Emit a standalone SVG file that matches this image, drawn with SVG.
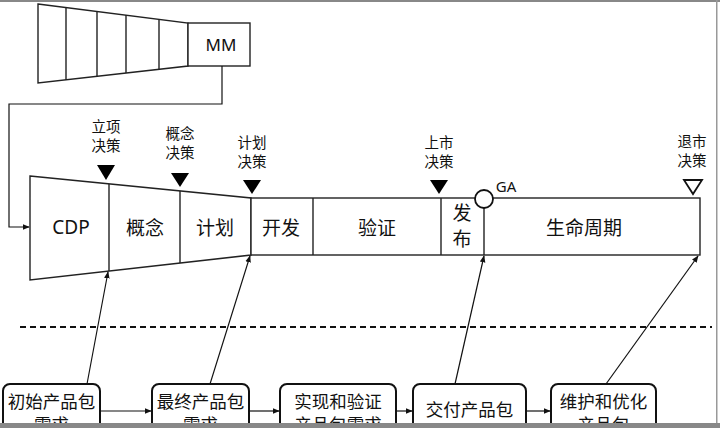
<svg xmlns="http://www.w3.org/2000/svg" width="720" height="428" viewBox="0 0 720 428">
<defs>
<marker id="ah" viewBox="0 0 10 10" refX="9" refY="5" markerWidth="7" markerHeight="7" orient="auto" markerUnits="userSpaceOnUse">
<path d="M0,1 L10,5 L0,9 z" fill="#111"/>
</marker>
<style>
.ln{fill:none;stroke:#222;stroke-width:1.4}
.sh{fill:#fff;stroke:#222;stroke-width:1.4}
.box{fill:#fff;stroke:#111;stroke-width:2}
.t{font-family:"Noto Sans","Noto Sans CJK SC",sans-serif;fill:#111;text-anchor:middle}
.big{font-size:19px}
.sm{font-size:14.5px}
.bx{font-size:17.5px}
.con{fill:none;stroke:#111;stroke-width:1.2;marker-end:url(#ah)}
.tri{fill:#000}
</style>
</defs>
<rect x="0" y="0" width="720" height="428" fill="#fff"/>

<g id="mm-funnel">
<polygon class="sh" points="38,4 188,23 188,66 38,83"/>
<line class="ln" x1="66" y1="7.5" x2="66" y2="79.8"/>
<line class="ln" x1="97" y1="11.5" x2="97" y2="76.3"/>
<line class="ln" x1="126" y1="15.1" x2="126" y2="73"/>
<line class="ln" x1="159" y1="19.3" x2="159" y2="69.3"/>
</g>
<g id="mm">
<rect class="sh" x="188" y="23" width="62" height="43"/>
<text class="t" x="221" y="51" font-size="17">MM</text>
</g>

<g id="main-funnel">
<polygon class="sh" points="30,176 251,198 251,255 30,280"/>
<line class="ln" x1="109" y1="184" x2="109" y2="271"/>
<line class="ln" x1="180" y1="191" x2="180" y2="263"/>
<text class="t big" x="71" y="234">CDP</text>
<text class="t big" x="145" y="235">概念</text>
<text class="t big" x="215" y="235">计划</text>
</g>
<g id="main-rect">
<rect class="sh" x="251" y="198" width="449" height="57"/>
<line class="ln" x1="313" y1="198" x2="313" y2="255"/>
<line class="ln" x1="441" y1="198" x2="441" y2="255"/>
<line class="ln" x1="484" y1="198" x2="484" y2="255"/>
<text class="t big" x="281" y="235">开发</text>
<text class="t big" x="377" y="235">验证</text>
<text class="t big" x="462" y="220">发</text>
<text class="t big" x="462" y="246">布</text>
<text class="t big" x="584" y="235">生命周期</text>
</g>
<g id="ga">
<circle cx="484" cy="199" r="9" fill="#fff" stroke="#111" stroke-width="1.8"/>
<text class="t" x="506" y="192" font-size="15">GA</text>
</g>

<g id="d1">
<text class="t sm" x="106" y="132">立项</text>
<text class="t sm" x="106" y="151">决策</text>
<polygon class="tri" points="97,165 115,165 106,180"/>
</g>
<g id="d2">
<text class="t sm" x="180" y="139">概念</text>
<text class="t sm" x="180" y="158">决策</text>
<polygon class="tri" points="171,173 189,173 180,187"/>
</g>
<g id="d3">
<text class="t sm" x="252" y="148">计划</text>
<text class="t sm" x="252" y="167">决策</text>
<polygon class="tri" points="243,180 261,180 252,194"/>
</g>
<g id="d4">
<text class="t sm" x="439" y="148">上市</text>
<text class="t sm" x="439" y="167">决策</text>
<polygon class="tri" points="430,180 448,180 439,194"/>
</g>
<g id="d5">
<text class="t sm" x="692" y="147">退市</text>
<text class="t sm" x="692" y="166">决策</text>
<polygon points="684,180 702,180 693,194" fill="#fff" stroke="#111" stroke-width="1.8"/>
</g>

<line x1="20" y1="327" x2="712" y2="327" stroke="#111" stroke-width="2" stroke-dasharray="6,4"/>

<g id="b1">
<rect class="box" x="3" y="384" width="97" height="60" rx="7"/>
<text class="t bx" x="51.5" y="408">初始产品包</text>
<text class="t bx" x="51.5" y="431">需求</text>
</g>
<g id="b2">
<rect class="box" x="152" y="384" width="97" height="60" rx="7"/>
<text class="t bx" x="200.5" y="408">最终产品包</text>
<text class="t bx" x="200.5" y="431">需求</text>
</g>
<g id="b3">
<rect class="box" x="280" y="384" width="116" height="60" rx="7"/>
<text class="t bx" x="338" y="408">实现和验证</text>
<text class="t bx" x="338" y="431">产品包需求</text>
</g>
<g id="b4">
<rect class="box" x="413" y="384" width="113" height="60" rx="7"/>
<text class="t bx" x="469.5" y="416">交付产品包</text>
</g>
<g id="b5">
<rect class="box" x="551" y="384" width="105" height="60" rx="7"/>
<text class="t bx" x="603.5" y="408">维护和优化</text>
<text class="t bx" x="603.5" y="431">产品包</text>
</g>

<g id="connectors">
<polyline class="con" points="222,66 222,104 9,104 9,227 29,227"/>
<line class="con" x1="87" y1="384" x2="108" y2="272"/>
<line class="con" x1="210" y1="384" x2="250" y2="256"/>
<line class="con" x1="455" y1="384" x2="484" y2="256"/>
<line class="con" x1="606" y1="384" x2="698" y2="256"/>
<line class="con" x1="100" y1="411" x2="151" y2="411"/>
<line class="con" x1="249" y1="411" x2="279" y2="411"/>
<line class="con" x1="396" y1="411" x2="412" y2="411"/>
<line class="con" x1="526" y1="411" x2="550" y2="411"/>
</g>

<rect x="0" y="0" width="720" height="2" fill="#888"/>
<rect x="716" y="0" width="1.5" height="428" fill="#999"/>
<rect x="0" y="423" width="720" height="5" fill="#888"/>
</svg>
